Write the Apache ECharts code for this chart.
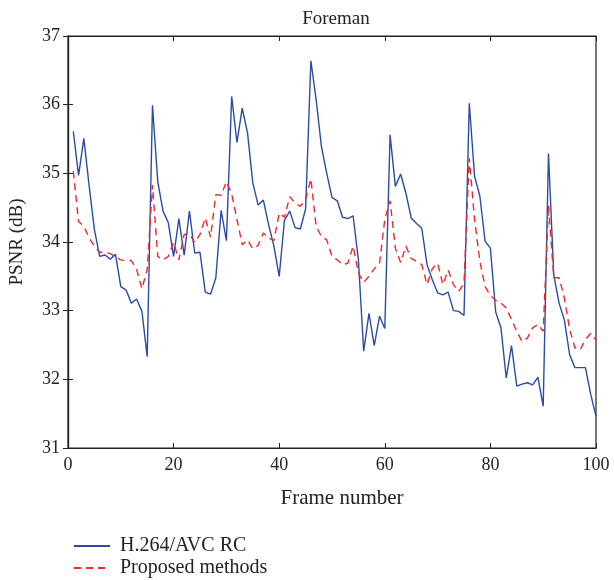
<!DOCTYPE html>
<html><head><meta charset="utf-8">
<script src="https://cdn.jsdelivr.net/npm/echarts@6/dist/echarts.min.js"></script>
<style>html,body{margin:0;padding:0;background:#fff}#c{width:614px;height:580px}</style>
</head><body><div id="c"></div>
<script>
var frames = [];
for (var i = 1; i <= 100; i++) frames.push(i);
var h264 = [35.61,34.97,35.51,34.82,34.18,33.79,33.81,33.75,33.82,33.35,
33.30,33.11,33.17,32.99,32.33,35.99,34.88,34.45,34.28,33.79,
34.34,33.81,34.45,33.84,33.85,33.27,33.24,33.48,34.46,34.02,
36.12,35.45,35.95,35.59,34.86,34.54,34.61,34.25,33.94,33.50,
34.32,34.45,34.21,34.19,34.48,36.64,36.07,35.39,35.00,34.65,
34.60,34.36,34.34,34.38,33.74,32.41,32.96,32.49,32.92,32.74,
35.56,34.81,34.99,34.71,34.35,34.27,34.20,33.67,33.45,33.26,
33.23,33.27,33.00,32.99,32.93,36.02,34.96,34.67,34.01,33.91,
32.98,32.75,32.02,32.49,31.90,31.93,31.95,31.92,32.03,31.61,
35.29,33.52,33.11,32.87,32.36,32.17,32.17,32.17,31.78,31.46];
var proposed = [35.03,34.30,34.23,34.06,33.94,33.85,33.85,33.83,33.79,33.74,
33.73,33.73,33.60,33.32,33.60,34.83,33.79,33.74,33.79,33.99,
33.74,34.11,34.12,33.99,34.11,34.35,34.07,34.69,34.68,34.88,
34.70,34.33,33.96,34.03,33.90,33.95,34.13,34.06,34.02,34.42,
34.36,34.66,34.57,34.52,34.62,34.92,34.23,34.08,34.03,33.79,
33.74,33.67,33.69,33.94,33.55,33.41,33.50,33.61,33.69,34.33,
34.60,33.91,33.70,33.94,33.76,33.72,33.67,33.38,33.61,33.69,
33.38,33.59,33.38,33.28,33.40,35.22,34.33,33.72,33.35,33.22,
33.15,33.11,33.04,32.87,32.70,32.55,32.60,32.75,32.80,32.70,
34.54,33.48,33.48,33.19,32.73,32.46,32.43,32.58,32.67,32.57];
var seriesNames = ['H.264/AVC RC', 'Proposed methods'];
var chartTitle = 'Foreman';
var xLabel = 'Frame number';
var yLabel = 'PSNR (dB)';

var font = 'Liberation Serif';
var axisCol = '#222';
var blue = '#2b4ca6', red = '#f0282c';
var chart = echarts.init(document.getElementById('c'));
function pairs(arr){ return arr.map(function(v,i){ return [frames[i], v]; }); }
var tickStyle = {show:true, inside:true, length:5, lineStyle:{color:axisCol, width:1}};
function legendAt(top, name){
  return {orient:'vertical', left:73, top:top, padding:0, itemWidth:36, itemHeight:12,
    itemStyle:{opacity:0}, textStyle:{fontFamily:font, fontSize:20, color:'#222', padding:[0,0,0,5]},
    data:[name]};
}
chart.setOption({
  animation:false,
  backgroundColor:'#fff',
  title:{text:chartTitle, left:331, top:5, textAlign:'center',
    textStyle:{fontFamily:font, fontSize:19, fontWeight:'normal', color:'#222'}},
  grid:{left:67, right:18, top:36, bottom:132, show:true, borderColor:axisCol, borderWidth:1.2},
  legend:[legendAt(536, seriesNames[0]), legendAt(558, seriesNames[1])],
  xAxis:[{type:'value', min:0, max:100, interval:20, position:'bottom',
    name:xLabel, nameLocation:'middle', nameGap:40,
    nameTextStyle:{fontFamily:font, fontSize:21, color:'#222', padding:[0,0,0,20]},
    axisLine:{show:true, lineStyle:{color:axisCol, width:1.2}},
    axisTick:tickStyle, splitLine:{show:false},
    axisLabel:{fontFamily:font, fontSize:18, color:'#222', margin:8}},
   {type:'value', min:0, max:100, interval:20, position:'top',
    axisLine:{show:true, lineStyle:{color:axisCol, width:1.2}},
    axisTick:tickStyle, axisLabel:{show:false}, splitLine:{show:false}}],
  yAxis:[{type:'value', min:31, max:37, interval:1, position:'left',
    name:yLabel, nameLocation:'middle', nameGap:41, nameRotate:90,
    nameTextStyle:{fontFamily:font, fontSize:19, color:'#222'},
    axisLine:{show:true, lineStyle:{color:axisCol, width:1.2}},
    axisTick:tickStyle, splitLine:{show:false},
    axisLabel:{fontFamily:font, fontSize:18, color:'#222', margin:8}},
   {type:'value', min:31, max:37, interval:1, position:'right',
    axisLine:{show:true, lineStyle:{color:axisCol, width:1.2}},
    axisTick:tickStyle, axisLabel:{show:false}, splitLine:{show:false}}],
  series:[
    {name:seriesNames[0], type:'line', data:pairs(h264), symbol:'none',
      lineStyle:{color:blue, width:1.4}, itemStyle:{color:blue}, z:2},
    {name:seriesNames[1], type:'line', data:pairs(proposed), symbol:'none',
      lineStyle:{color:red, width:1.4, type:[7,5]}, itemStyle:{color:red}, z:3}
  ]
});
</script></body></html>
